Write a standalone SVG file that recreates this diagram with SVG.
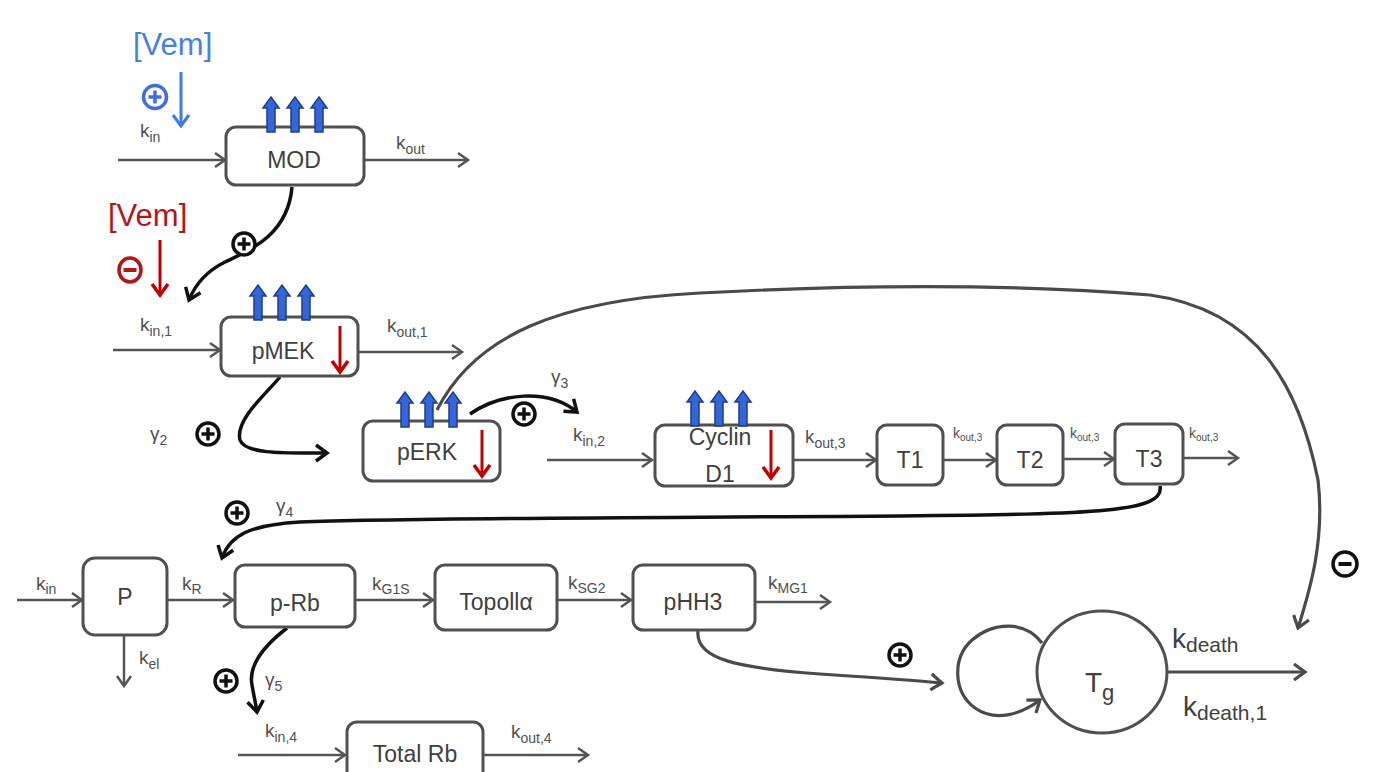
<svg xmlns="http://www.w3.org/2000/svg" width="1373" height="772" viewBox="0 0 1373 772">
<style>
text{font-family:"Liberation Sans",Arial,sans-serif;}
.box{fill:#fff;stroke:#505050;stroke-width:3;}
.bt{font-size:23px;fill:#404040;text-anchor:middle;}
.lb{font-size:19px;fill:#505050;}
.sm{font-size:14px;fill:#505050;}
.g{fill:none;stroke:#555;stroke-width:2.5;marker-end:url(#ag);}
.gt{fill:none;stroke:#4a4a4a;stroke-width:3.2;marker-end:url(#ag2);}
.k{fill:none;stroke:#111;stroke-width:3.5;marker-end:url(#ak);}
.red{fill:none;stroke:#c00000;stroke-width:3;marker-end:url(#ar);}
.blue{fill:none;stroke:#3f7ae8;stroke-width:3;marker-end:url(#ab);}
</style>
<defs>
<marker id="ag" markerUnits="userSpaceOnUse" markerWidth="16" markerHeight="16" refX="12" refY="8" orient="auto" overflow="visible"><path d="M2,1 L12,8 L2,15" fill="none" stroke="#555" stroke-width="2.5"/></marker>
<marker id="ag2" markerUnits="userSpaceOnUse" markerWidth="18" markerHeight="18" refX="13" refY="9" orient="auto" overflow="visible"><path d="M2,1 L13,9 L2,17" fill="none" stroke="#4a4a4a" stroke-width="3.2"/></marker>
<marker id="ak" markerUnits="userSpaceOnUse" markerWidth="18" markerHeight="18" refX="13" refY="9" orient="auto" overflow="visible"><path d="M2,1 L13,9 L2,17" fill="none" stroke="#111" stroke-width="3.5"/></marker>
<marker id="ar" markerUnits="userSpaceOnUse" markerWidth="18" markerHeight="18" refX="13" refY="9" orient="auto" overflow="visible"><path d="M2,1 L13,9 L2,17" fill="none" stroke="#c00000" stroke-width="3.5"/></marker>
<marker id="ab" markerUnits="userSpaceOnUse" markerWidth="18" markerHeight="18" refX="13" refY="9" orient="auto" overflow="visible"><path d="M2,1 L13,9 L2,17" fill="none" stroke="#3f7ae8" stroke-width="3"/></marker>
<path id="up" d="M-4,0 L-4,-24 L-8,-24 L0,-35 L8,-24 L4,-24 L4,0 Z" fill="#3466d8" stroke="#1d3c8c" stroke-width="1.5"/>
<g id="up3"><use href="#up" x="0"/><use href="#up" x="24"/><use href="#up" x="48"/></g>
<g id="plusk"><circle r="11" fill="#fff" stroke="#111" stroke-width="3.5"/><path d="M-6.5,0 H6.5 M0,-6.5 V6.5" stroke="#111" stroke-width="3.5"/></g>
<g id="minusk"><circle r="12" fill="#fff" stroke="#111" stroke-width="3.5"/><path d="M-6.5,0 H6.5" stroke="#111" stroke-width="4"/></g>
</defs>

<g id="connectors">
<path class="g" d="M118,160 H225"/>
<path class="g" d="M363,160 H468"/>
<path class="g" d="M113,350 H220"/>
<path class="g" d="M358,352 H462"/>
<path class="g" d="M547,460 H652"/>
<path class="g" d="M793,460 H876"/>
<path class="g" d="M943,460 H996"/>
<path class="g" d="M1063,459 H1114"/>
<path class="g" d="M1183,458 H1238"/>
<path class="g" d="M17,600 H82"/>
<path class="g" d="M124,635 V686"/>
<path class="g" d="M167,600 H233"/>
<path class="g" d="M355,600 H433"/>
<path class="g" d="M557,600 H631"/>
<path class="g" d="M755,602 H830"/>
<path class="g" d="M238,755 H345"/>
<path class="g" d="M483,755 H588"/>
<path class="gt" d="M1167,672 H1305"/>
<path class="gt" d="M1042,643 C1025,620 993,622 972,640 C952,658 953,692 975,708 C995,722 1020,715 1040,700"/>
<path class="gt" d="M437,410 C475,335 560,300 700,293 C850,285 1000,283 1150,295 C1260,310 1300,390 1318,480 C1325,540 1310,590 1298,628"/>
<path class="gt" d="M698,631 C695,660 740,668 820,674 C880,678 910,680 942,683"/>
<path class="k" d="M292,187 C288,235 250,250 225,262 C205,272 195,285 189,300"/>
<path class="k" d="M280,377 C265,395 235,420 240,440 C245,455 290,453 327,453"/>
<path class="k" d="M470,414 C500,393 548,388 577,412"/>
<path class="k" d="M1160,486 C1165,512 1100,514 900,516 C600,518 400,518 300,522 C250,525 230,535 222,558"/>
<path class="k" d="M287,628 C265,645 248,665 252,685 C254,697 256,705 257,712"/>
<path class="blue" d="M181,72 V126"/>
<path class="red" d="M160,240 V295"/>
</g>

<g id="vem-blue">
<text x="133" y="55" font-size="31" fill="#4a7fe0">[Vem]</text>
<circle cx="155" cy="97" r="11.5" fill="none" stroke="#3f6fe0" stroke-width="3.5"/>
<path d="M148.5,97 H161.5 M155,90.5 V103.5" stroke="#3f6fe0" stroke-width="3.5"/>
</g>
<g id="vem-red">
<text x="108" y="226" font-size="31" fill="#b01818">[Vem]</text>
<ellipse cx="130" cy="270" rx="11" ry="12" fill="none" stroke="#b01818" stroke-width="3.5"/>
<path d="M123.5,270 H136.5" stroke="#b01818" stroke-width="4"/>
</g>

<g id="MOD">
<rect class="box" x="226" y="127" width="138" height="58" rx="10"/>
<text class="bt" x="294" y="168">MOD</text>
<use href="#up3" x="271" y="132"/>
</g>
<g id="pMEK">
<rect class="box" x="221" y="317" width="137" height="59" rx="10"/>
<text class="bt" x="283" y="359">pMEK</text>
<use href="#up3" x="258" y="320"/>
<path class="red" d="M340,326 V372"/>
</g>
<g id="pERK">
<rect class="box" x="363" y="421" width="137" height="60" rx="10"/>
<text class="bt" x="427" y="460">pERK</text>
<use href="#up3" x="405" y="427"/>
<path class="red" d="M482,430 V476"/>
</g>
<g id="CyclinD1">
<rect class="box" x="655" y="425" width="138" height="61" rx="10"/>
<text class="bt" x="720" y="445">Cyclin</text>
<text class="bt" x="720" y="482">D1</text>
<use href="#up3" x="695" y="426"/>
<path class="red" d="M771,430 V478"/>
</g>
<g id="T1"><rect class="box" x="877" y="425" width="66" height="60" rx="10"/><text class="bt" x="910" y="468">T1</text></g>
<g id="T2"><rect class="box" x="997" y="425" width="66" height="60" rx="10"/><text class="bt" x="1030" y="468">T2</text></g>
<g id="T3"><rect class="box" x="1115" y="424" width="68" height="60" rx="10"/><text class="bt" x="1149" y="467">T3</text></g>
<g id="P"><rect class="box" x="83" y="558" width="84" height="77" rx="12"/><text class="bt" x="125" y="605">P</text></g>
<g id="pRb"><rect class="box" x="235" y="565" width="120" height="62" rx="10"/><text class="bt" x="295" y="611">p-Rb</text></g>
<g id="TopoIIa"><rect class="box" x="435" y="565" width="122" height="65" rx="10"/><text class="bt" x="496" y="610">Topollα</text></g>
<g id="pHH3"><rect class="box" x="633" y="565" width="122" height="65" rx="10"/><text class="bt" x="693" y="610">pHH3</text></g>
<g id="TotalRb"><rect class="box" x="347" y="722" width="136" height="70" rx="10"/><text class="bt" x="415" y="762">Total Rb</text></g>
<g id="Tg">
<ellipse cx="1102" cy="672" rx="65" ry="61" fill="#fff" stroke="#505050" stroke-width="3"/>
<text x="1085" y="692" font-size="28" fill="#404040">T<tspan font-size="22" dy="8">g</tspan></text>
</g>

<g id="labels">
<text class="lb" x="140" y="137">k<tspan font-size="14" dy="5">in</tspan></text>
<text class="lb" x="396" y="149">k<tspan font-size="14" dy="5">out</tspan></text>
<text class="lb" x="140" y="331">k<tspan font-size="14" dy="5">in,1</tspan></text>
<text class="lb" x="387" y="332">k<tspan font-size="14" dy="5">out,1</tspan></text>
<text class="lb" x="150" y="440">γ<tspan font-size="14" dy="5">2</tspan></text>
<text class="lb" x="551" y="383">γ<tspan font-size="14" dy="5">3</tspan></text>
<text class="lb" x="573" y="441">k<tspan font-size="14" dy="5">in,2</tspan></text>
<text class="lb" x="805" y="443">k<tspan font-size="14" dy="5">out,3</tspan></text>
<text class="sm" x="953" y="438">k<tspan font-size="10" dy="3">out,3</tspan></text>
<text class="sm" x="1070" y="438">k<tspan font-size="10" dy="3">out,3</tspan></text>
<text class="sm" x="1189" y="438">k<tspan font-size="10" dy="3">out,3</tspan></text>
<text class="lb" x="276" y="512">γ<tspan font-size="14" dy="5">4</tspan></text>
<text class="lb" x="36" y="590">k<tspan font-size="14" dy="4">in</tspan></text>
<text class="lb" x="182" y="590">k<tspan font-size="14" dy="4">R</tspan></text>
<text class="lb" x="372" y="590">k<tspan font-size="14" dy="4">G1S</tspan></text>
<text class="lb" x="568" y="589">k<tspan font-size="14" dy="4">SG2</tspan></text>
<text class="lb" x="768" y="589">k<tspan font-size="14" dy="4">MG1</tspan></text>
<text class="lb" x="139" y="664">k<tspan font-size="14" dy="5">el</tspan></text>
<text class="lb" x="265" y="686">γ<tspan font-size="14" dy="5">5</tspan></text>
<text class="lb" x="265" y="737">k<tspan font-size="14" dy="5">in,4</tspan></text>
<text class="lb" x="511" y="738">k<tspan font-size="14" dy="5">out,4</tspan></text>
<text x="1172" y="648" font-size="28" fill="#404040">k<tspan font-size="21" dy="4">death</tspan></text>
<text x="1183" y="716" font-size="28" fill="#404040">k<tspan font-size="21" dy="4">death,1</tspan></text>
</g>

<g id="signs">
<use href="#plusk" x="244" y="244"/>
<use href="#plusk" x="208" y="434"/>
<use href="#plusk" x="524" y="414"/>
<use href="#plusk" x="237" y="513"/>
<use href="#plusk" x="226" y="681"/>
<use href="#plusk" x="900" y="655"/>
<use href="#minusk" x="1345" y="564"/>
</g>
</svg>
